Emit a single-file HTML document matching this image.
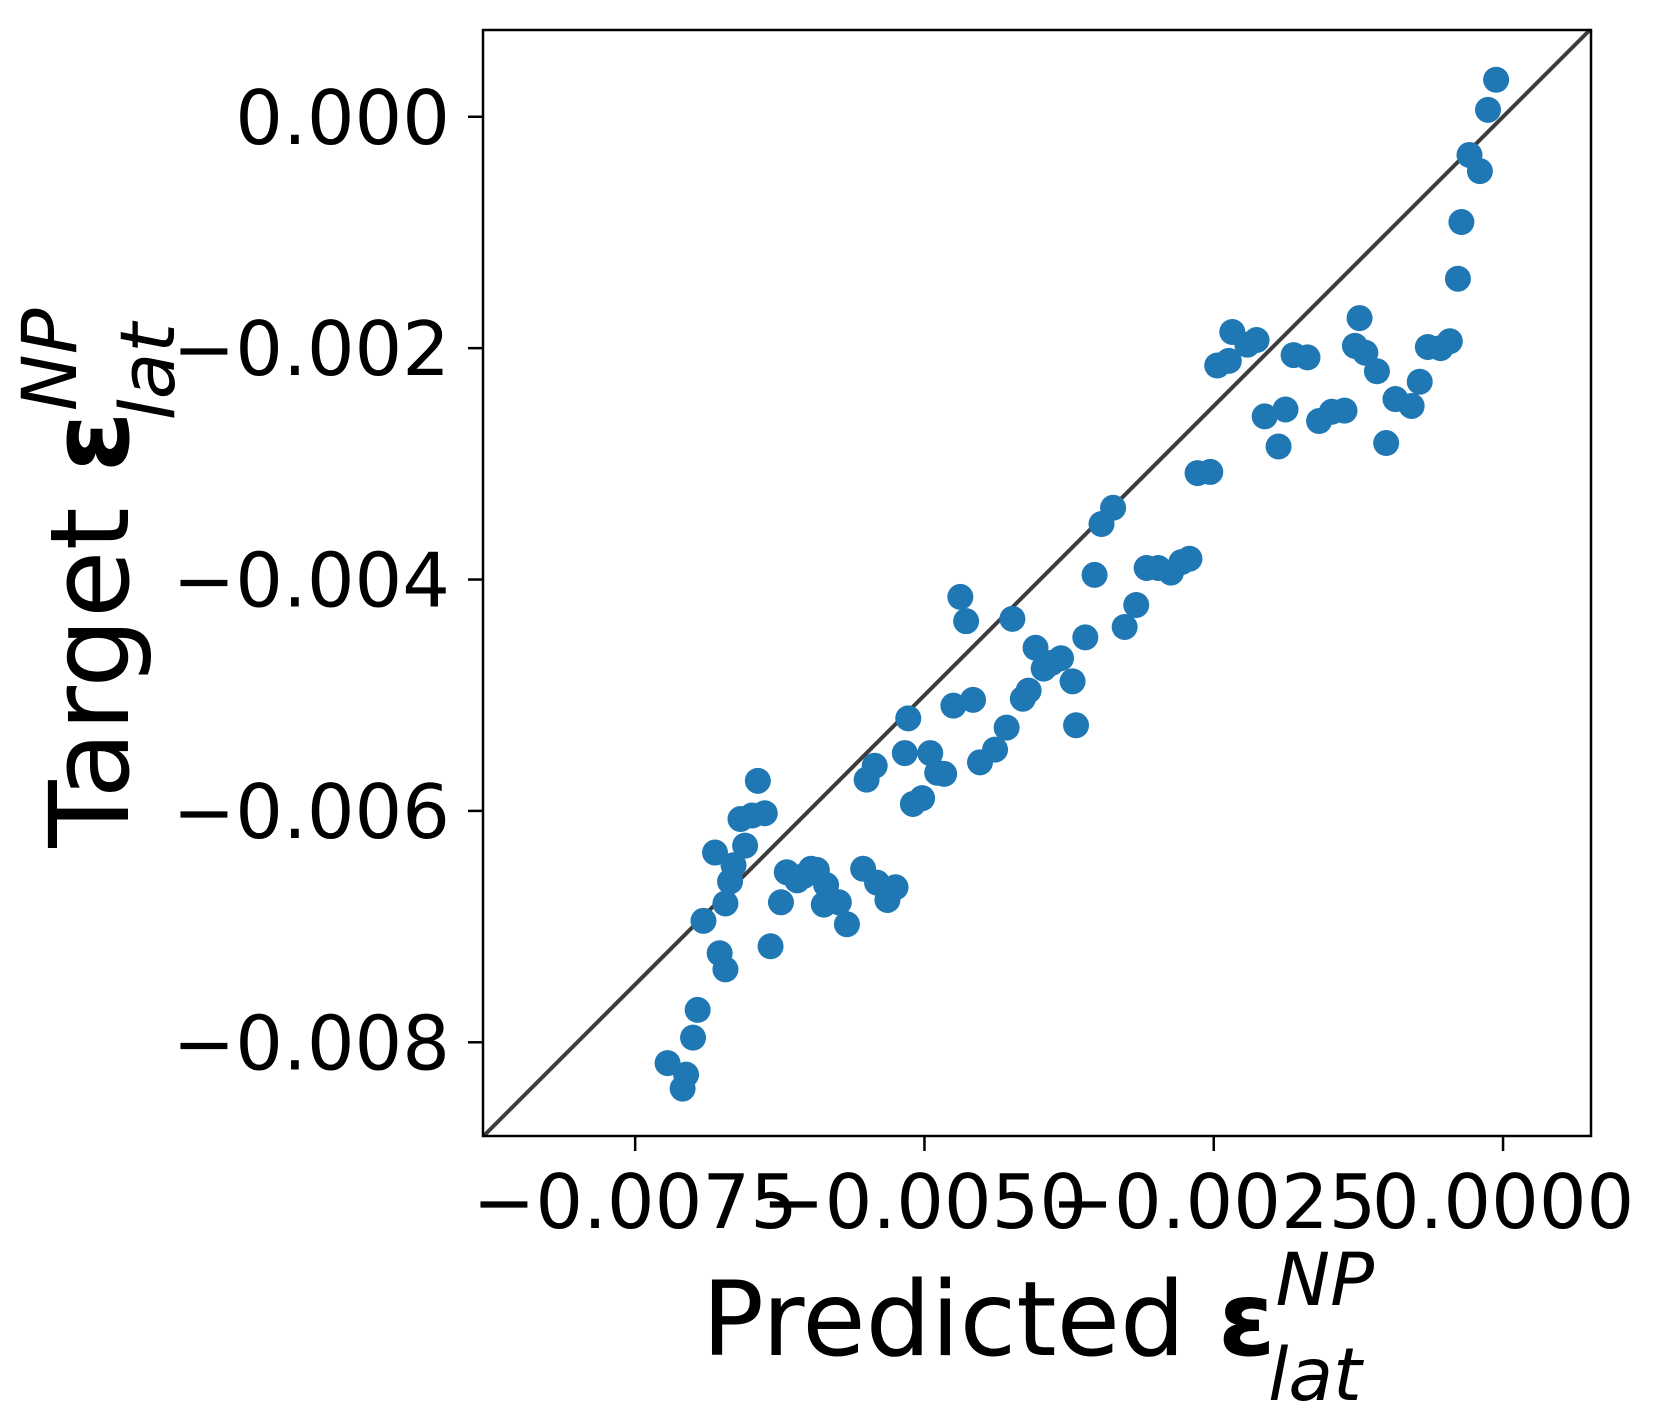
<!DOCTYPE html>
<html><head><meta charset="utf-8"><style>html,body{margin:0;padding:0;background:#fff}svg{display:block}</style></head>
<body>
<svg id="chart" width="1664" height="1415" viewBox="0 0 1664 1415" xmlns="http://www.w3.org/2000/svg" font-family="DejaVu Sans, Liberation Sans, sans-serif">
<rect width="1664" height="1415" fill="#fff"/>
<g id="marks"></g>
<g id="axes"></g>
<text x="1038" y="1355" font-size="103" text-anchor="middle">Predicted <tspan font-weight="bold">ε</tspan><tspan font-size="73" font-style="italic" dy="-50">NP</tspan><tspan font-size="73" font-style="italic" dx="-106" dy="95">lat</tspan></text>
<text transform="translate(128,578) rotate(-90)" x="0" y="0" font-size="110" text-anchor="middle">Target <tspan font-weight="bold">ε</tspan><tspan font-size="76" font-style="italic" dy="-52">NP</tspan><tspan font-size="76" font-style="italic" dx="-112" dy="98">lat</tspan></text>
</svg>
<script>
// values in units of 1e-3
const predicted = [-7.22,-7.09,-7.06,-7.00,-6.96,-6.91,-6.81,-6.77,-6.72,-6.72,-6.68,-6.65,-6.59,-6.55,-6.49,-6.44,-6.38,-6.33,-6.24,-6.19,-6.10,-6.04,-5.98,-5.93,-5.87,-5.85,-5.74,-5.67,-5.53,-5.50,-5.43,-5.41,-5.32,-5.25,-5.17,-5.14,-5.10,-5.02,-4.95,-4.89,-4.83,-4.75,-4.69,-4.64,-4.58,-4.52,-4.39,-4.29,-4.24,-4.15,-4.10,-4.04,-3.97,-3.90,-3.82,-3.72,-3.69,-3.61,-3.53,-3.47,-3.37,-3.27,-3.17,-3.08,-2.98,-2.87,-2.78,-2.71,-2.64,-2.53,-2.47,-2.37,-2.34,-2.21,-2.13,-2.06,-1.94,-1.88,-1.81,-1.69,-1.59,-1.48,-1.37,-1.28,-1.24,-1.19,-1.09,-1.01,-0.93,-0.79,-0.72,-0.65,-0.54,-0.46,-0.39,-0.36,-0.29,-0.20,-0.13,-0.06];
const target = [-8.18,-8.40,-8.28,-7.96,-7.72,-6.95,-6.36,-7.23,-7.37,-6.80,-6.61,-6.47,-6.07,-6.30,-6.04,-5.74,-6.02,-7.17,-6.79,-6.53,-6.60,-6.56,-6.50,-6.51,-6.81,-6.64,-6.79,-6.98,-6.50,-5.73,-5.61,-6.62,-6.77,-6.66,-5.50,-5.20,-5.94,-5.89,-5.50,-5.67,-5.68,-5.09,-4.15,-4.36,-5.04,-5.58,-5.47,-5.28,-4.34,-5.03,-4.96,-4.59,-4.77,-4.72,-4.68,-4.88,-5.26,-4.50,-3.96,-3.52,-3.38,-4.41,-4.22,-3.90,-3.90,-3.94,-3.85,-3.82,-3.08,-3.07,-2.15,-2.11,-1.86,-1.97,-1.93,-2.59,-2.85,-2.53,-2.06,-2.08,-2.63,-2.55,-2.54,-1.98,-1.74,-2.04,-2.20,-2.82,-2.44,-2.50,-2.29,-1.99,-2.00,-1.94,-1.40,-0.91,-0.33,-0.47,0.06,0.32];
const xTicks = [-7.5,-5.0,-2.5,0.0];
const xTickLabels = ["\u22120.0075","\u22120.0050","\u22120.0025","0.0000"];
const yTicks = [0,-2,-4,-6,-8];
const yTickLabels = ["0.000","\u22120.002","\u22120.004","\u22120.006","\u22120.008"];
const xLim = [-8.815, 0.76];
const yLim = [-8.81, 0.75];

const L=483,R=1591,T=30,B=1136;
const sx=v=>L+(v-xLim[0])/(xLim[1]-xLim[0])*(R-L);
const sy=v=>B-(v-yLim[0])/(yLim[1]-yLim[0])*(B-T);
const NS="http://www.w3.org/2000/svg";
const mk=(t,a,p)=>{const e=document.createElementNS(NS,t);for(const k in a)e.setAttribute(k,a[k]);p.appendChild(e);return e;};
const marks=document.getElementById('marks'), axes=document.getElementById('axes');

const lo=Math.max(xLim[0],yLim[0]), hi=Math.min(xLim[1],yLim[1]);
const diag=mk('line',{x1:sx(lo),y1:sy(lo),x2:sx(hi),y2:sy(hi),stroke:'#333',"stroke-width":4,opacity:0.95},marks);


predicted.forEach((p,i)=>{
  const c=mk('circle',{cx:sx(p),cy:sy(target[i]),r:13,fill:'#1f77b4'},marks);
  
  
});
const frame=mk('rect',{x:L,y:T,width:R-L,height:B-T,fill:'none',stroke:'#000','stroke-width':2.5},axes);


xTicks.forEach((v,i)=>{
  const l=mk('line',{x1:sx(v),x2:sx(v),y1:B,y2:B+15,stroke:'#000','stroke-width':2.5},axes);
  
  
  const t=mk('text',{x:sx(v),y:1228,'font-size':75,'text-anchor':'middle'},axes);
  t.textContent=xTickLabels[i];
  
  
});
yTicks.forEach((v,i)=>{
  const l=mk('line',{x1:L-15,x2:L,y1:sy(v),y2:sy(v),stroke:'#000','stroke-width':2.5},axes);
  
  
  const t=mk('text',{x:450,y:sy(v)+27,'font-size':75,'text-anchor':'end'},axes);
  t.textContent=yTickLabels[i];
  
  
});
</script>
</body></html>
